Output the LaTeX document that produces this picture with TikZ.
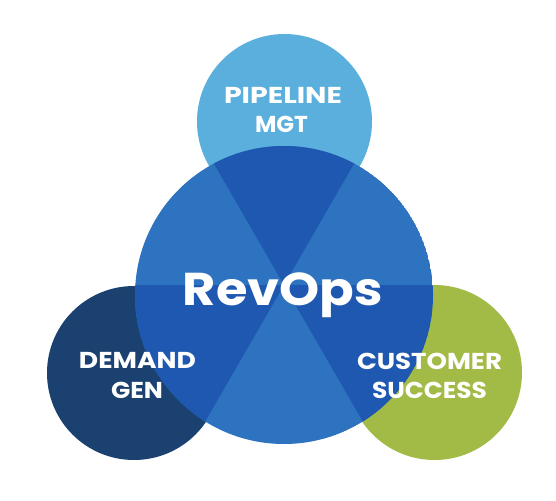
\documentclass[tikz,border=0pt]{standalone}
\usepackage{fontspec}
\usepackage{graphicx}
\newfontfamily\popfont{Poppins}
\definecolor{pipecol}{HTML}{5AAFDD}
\definecolor{navycol}{HTML}{1A4170}
\definecolor{greencol}{HTML}{A2BB47}
\definecolor{lightcol}{HTML}{2E73C0}
\definecolor{darkcol}{HTML}{1E58B0}
\newcommand{\fitw}[2]{\resizebox{#1}{\height}{#2}}
\begin{document}
\begin{tikzpicture}[x=1pt,y=-1pt,
  lbl/.style={text=white,inner sep=0pt,anchor=base,font=\popfont\bfseries\fontsize{23}{29}\selectfont},
  big/.style={text=white,inner sep=0pt,anchor=base,font=\popfont\bfseries\fontsize{46}{50}\selectfont}]
\useasboundingbox (0,0) rectangle (556,500);
\fill[white] (0,0) rectangle (556,500);
% outer circles
\fill[pipecol] (284.5,121.5) circle (87.5);
\fill[navycol] (134,373) circle (87);
\fill[greencol] (434.5,372.5) circle (87.5);
% central circle with wedges
\coordinate (wc) at (284,285);
\begin{scope}
  \clip (284,295) circle (149);
  \fill[lightcol] (284,295) circle (149);
  \fill[darkcol] (wc) -- +(0:400) -- +(60:400) -- cycle;
  \fill[darkcol] (wc) -- +(120:400) -- +(180:400) -- cycle;
  \fill[darkcol] (wc) -- +(240:400) -- +(300:400) -- cycle;
\end{scope}
% labels
\node[lbl] (pipe1) at (283,103) {\fitw{118pt}{PIPELINE}};
\node[lbl] (pipe2) at (281.5,132) {\fitw{53pt}{MGT}};
\node[lbl] (dem1) at (137.5,368) {\fitw{117pt}{DEMAND}};
\node[lbl] (dem2) at (137,398) {\fitw{52pt}{GEN}};
\node[lbl] (cus1) at (429.5,369) {\fitw{145pt}{CUSTOMER}};
\node[lbl] (cus2) at (429.5,398) {\fitw{115pt}{SUCCESS}};
\node[big] (rev) at (283,305) {\fitw{200pt}{RevOps}};
\end{tikzpicture}
\end{document}
